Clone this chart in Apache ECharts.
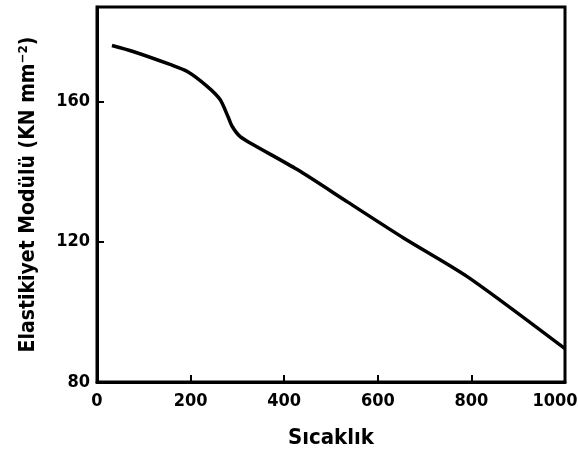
<!DOCTYPE html>
<html>
<head>
<meta charset="utf-8">
<script src="https://cdn.jsdelivr.net/npm/echarts@6/dist/echarts.min.js"></script>
<style>
  html, body { margin: 0; padding: 0; background: #fff; }
  #chart { width: 578px; height: 456px; }
</style>
</head>
<body>
<div id="chart"></div>
<script>
// Sıcaklık (x) vs Elastikiyet Modülü (y)
var temps = [32, 77, 156, 193, 236, 263, 280, 289, 306, 334, 428, 535, 655, 792, 1000];
var modulus = [176, 174.3, 170.6, 168.6, 164.3, 160.6, 155.7, 152.9, 150, 147.7, 140.6, 131.4, 121.1, 110, 89.5];
var xTicks = [0, 200, 400, 600, 800, 1000];
var yTicks = [80, 120, 160];

var points = [];
for (var i = 0; i < temps.length; i++) {
  points.push([temps[i], modulus[i]]);
}

var font = 'DejaVu Sans Condensed';
var chart = echarts.init(document.getElementById('chart'));
chart.setOption({
  animation: false,
  grid: {
    left: 97, right: 13, top: 7, bottom: 74,
    outerBoundsMode: 'none',
    containLabel: false,
    show: true, borderColor: '#000', borderWidth: 3
  },
  xAxis: {
    type: 'value',
    min: 0, max: 1000, interval: 200,
    name: 'Sıcaklık',
    nameLocation: 'middle',
    nameGap: 45,
    nameTextStyle: { color: '#000', fontFamily: font, fontWeight: 'bold', fontSize: 22 },
    axisLine: { show: true, lineStyle: { color: '#000', width: 3 } },
    axisTick: { show: true, inside: true, length: 7, lineStyle: { color: '#000', width: 2 } },
    axisLabel: {
      color: '#000', fontFamily: font, fontWeight: 'bold', fontSize: 18, margin: 10,
      formatter: function (v) { return v === 1000 ? '{m|1000}' : String(v); },
      rich: { m: { fontFamily: font, fontWeight: 'bold', fontSize: 18, color: '#000', padding: [0, 20, 0, 0] } }
    },
    splitLine: { show: false }
  },
  yAxis: {
    type: 'value',
    min: 80, max: 187, interval: 40,
    name: 'Elastikiyet Modülü (KN mm⁻²)',
    nameLocation: 'middle',
    nameGap: 58,
    nameTextStyle: { color: '#000', fontFamily: font, fontWeight: 'bold', fontSize: 21 },
    axisLine: { show: true, lineStyle: { color: '#000', width: 3 } },
    axisTick: { show: true, inside: true, length: 7, lineStyle: { color: '#000', width: 2 }, customValues: yTicks },
    axisLabel: { color: '#000', fontFamily: font, fontWeight: 'bold', fontSize: 18, margin: 7, customValues: yTicks },
    splitLine: { show: false }
  },
  series: [{
    type: 'line',
    data: points,
    smooth: 0.25,
    showSymbol: false,
    lineStyle: { color: '#000', width: 3.5 }
  }]
});
</script>
</body>
</html>
